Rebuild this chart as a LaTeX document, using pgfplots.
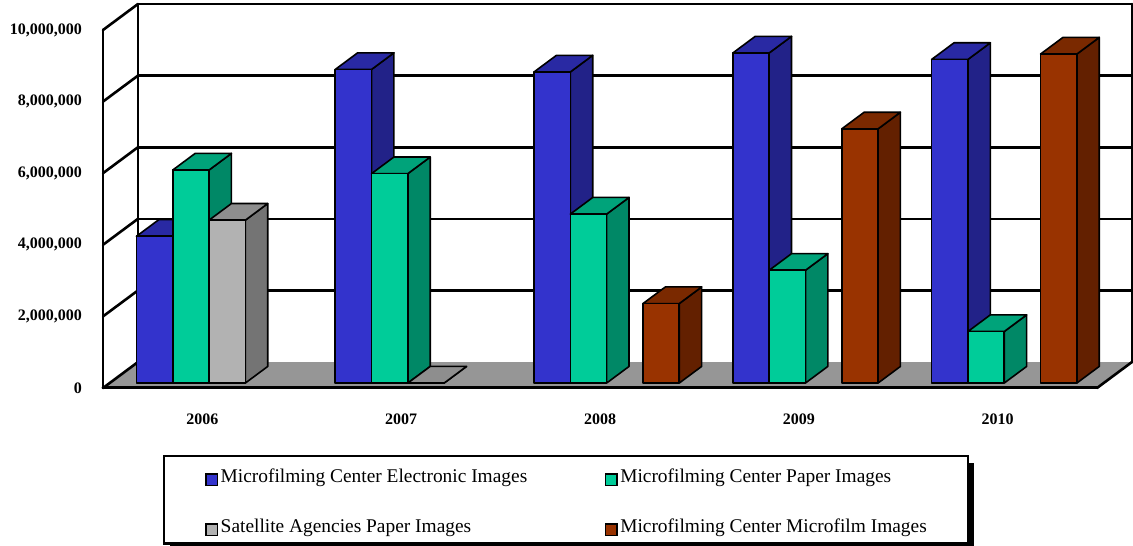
\documentclass[border=0pt]{standalone}
\usepackage{pgfplots}
\pgfplotsset{compat=1.18}
\usepackage{pgfplotstable}
\usepackage{fontspec}
\setmainfont{Liberation Serif}
\usetikzlibrary{shadows}

\makeatletter
\tikzset{no preactions/.code={\let\tikz@preactions\pgfutil@empty}}
\makeatother

\definecolor{blueF}{HTML}{3333CC}
\definecolor{blueT}{HTML}{2929A3}
\definecolor{blueS}{HTML}{222288}
\definecolor{greenF}{HTML}{00CC99}
\definecolor{greenT}{HTML}{00A37A}
\definecolor{greenS}{HTML}{008866}
\definecolor{grayF}{HTML}{B2B2B2}
\definecolor{grayT}{HTML}{8E8E8E}
\definecolor{grayS}{HTML}{747474}
\definecolor{brownF}{HTML}{993300}
\definecolor{brownT}{HTML}{7A2900}
\definecolor{brownS}{HTML}{632000}
\definecolor{floorc}{HTML}{969696}

% values in millions of images
\pgfplotstableread{
x v
1 4.10
2 8.76
3 8.69
4 9.22
5 9.04
}\blueTable
\pgfplotstableread{
x v
1 5.95
2 5.85
3 4.72
4 3.15
5 1.44
}\greenTable
\pgfplotstableread{
x v
1 4.55
2 0
}\grayTable
\pgfplotstableread{
x v
3 2.22
4 7.10
5 9.19
}\brownTable

\def\DX{0.176}\def\DY{0.726}\def\FZ{0.19}\def\FO{0.83}\def\BW{0.1826}

\pgfplotsset{
  barface/.style={draw=black, line width=1.6pt, line join=round, forget plot},
  gl/.style={draw=black, line width=2.6pt, line cap=round, forget plot},
}

\newcommand\barseries[5]{%
  \pgfplotstablegetrowsof{#1}%
  \pgfmathtruncatemacro\nrows{\pgfplotsretval-1}%
  \foreach \r in {0,...,\nrows}{%
    \pgfplotstablegetelem{\r}{x}\of{#1}\let\cx\pgfplotsretval
    \pgfplotstablegetelem{\r}{v}\of{#1}\let\cv\pgfplotsretval
    \pgfmathsetmacro\xa{\cx-2*\BW+#2*\BW+\FZ*\DX}%
    \pgfmathsetmacro\xb{\xa+\BW}%
    \pgfmathsetmacro\ya{\FZ*\DY}%
    \pgfmathsetmacro\yb{\ya+\cv}%
    \pgfmathsetmacro\xc{\xa+(\FO-\FZ)*\DX}%
    \pgfmathsetmacro\xd{\xb+(\FO-\FZ)*\DX}%
    \pgfmathsetmacro\yc{\ya+(\FO-\FZ)*\DY}%
    \pgfmathsetmacro\yd{\yb+(\FO-\FZ)*\DY}%
    \edef\tmp{%
      \noexpand\addplot[barface, fill=#5] coordinates {(\xb,\ya) (\xd,\yc) (\xd,\yd) (\xb,\yb)} -- cycle;
      \noexpand\addplot[barface, fill=#4] coordinates {(\xa,\yb) (\xb,\yb) (\xd,\yd) (\xc,\yd)} -- cycle;
      \noexpand\addplot[barface, fill=#3] coordinates {(\xa,\ya) (\xb,\ya) (\xb,\yb) (\xa,\yb)} -- cycle;
    }\tmp
  }%
}

\begin{document}
\begin{tikzpicture}
\path[use as bounding box] (0,0) rectangle (1133pt,546pt);
\begin{axis}[
  at={(103pt,158pt)}, anchor=south west,
  scale only axis, width=994pt, height=358pt,
  xmin=0.5, xmax=5.5, ymin=0, ymax=10,
  clip=false,
  axis lines=left, axis line style={draw=none},
  major tick length=0pt,
  xtick={1,2,3,4,5}, xticklabels={2006,2007,2008,2009,2010},
  ytick={0,2,4,6,8,10},
  yticklabels={0,{2,000,000},{4,000,000},{6,000,000},{8,000,000},{10,000,000}},
  tick label style={font=\fontsize{16}{19}\selectfont\bfseries, inner sep=0pt},
  yticklabel style={anchor=east, xshift=-21pt},
  xticklabel style={anchor=north, yshift=-26pt},
  legend columns=2,
  legend image code/.code={\draw[no preactions, #1, draw=black, line width=1.4pt] (2.5pt,-2.6pt) rectangle (14pt,8.9pt);},
  legend style={
    at={(axis description cs:0.0604,-0.1872)}, anchor=north west,
    draw=black, line width=2.4pt, fill=white,
    font=\fontsize{19.4}{22}\selectfont,
    inner xsep=41pt, inner ysep=7.5pt, row sep=27.7pt,
    nodes={inner sep=0pt, text height=19pt, text depth=0pt, anchor=base west},
    /tikz/every odd column/.append style={column sep=2.6pt},
    /tikz/every even column/.append style={column sep=77.5pt},
    drop shadow={shadow xshift=6pt, shadow yshift=-7pt, fill=black, opacity=1},
  },
]
% floor
\addplot[fill=floorc, draw=none, forget plot] coordinates {(0.5,0) (5.5,0) (5.676,0.726) (0.676,0.726)} -- cycle;
% back wall gridlines
\addplot[gl] coordinates {(0.676,2.726) (5.676,2.726)};
\addplot[gl] coordinates {(0.676,4.726) (5.676,4.726)};
\addplot[gl] coordinates {(0.676,6.726) (5.676,6.726)};
\addplot[gl] coordinates {(0.676,8.726) (5.676,8.726)};
\addplot[gl] coordinates {(0.676,10.726) (5.676,10.726)};
% left wall diagonals
\addplot[gl] coordinates {(0.5,0) (0.676,0.726)};
\addplot[gl] coordinates {(0.5,2) (0.676,2.726)};
\addplot[gl] coordinates {(0.5,4) (0.676,4.726)};
\addplot[gl] coordinates {(0.5,6) (0.676,6.726)};
\addplot[gl] coordinates {(0.5,8) (0.676,8.726)};
\addplot[gl] coordinates {(0.5,10) (0.676,10.726)};
% wall verticals
\addplot[gl] coordinates {(0.5,0) (0.5,10)};
\addplot[gl] coordinates {(0.676,0.726) (0.676,10.726)};
\addplot[gl] coordinates {(5.676,0.726) (5.676,10.726)};
% floor edges
\addplot[gl] coordinates {(5.5,0) (5.676,0.726)};
\addplot[gl, line width=3pt] coordinates {(0.5,0) (5.5,0)};
% bars
\barseries{\blueTable}{0}{blueF}{blueT}{blueS}
\barseries{\greenTable}{1}{greenF}{greenT}{greenS}
\barseries{\grayTable}{2}{grayF}{grayT}{grayS}
\barseries{\brownTable}{3}{brownF}{brownT}{brownS}
% legend
\addlegendimage{fill=blueF}
\addlegendentry{Microfilming Center Electronic Images}
\addlegendimage{fill=greenF}
\addlegendentry{Microfilming Center Paper Images}
\addlegendimage{fill=grayF}
\addlegendentry{Satellite Agencies Paper Images}
\addlegendimage{fill=brownF}
\addlegendentry{Microfilming Center Microfilm Images}
\end{axis}
\end{tikzpicture}
\end{document}
